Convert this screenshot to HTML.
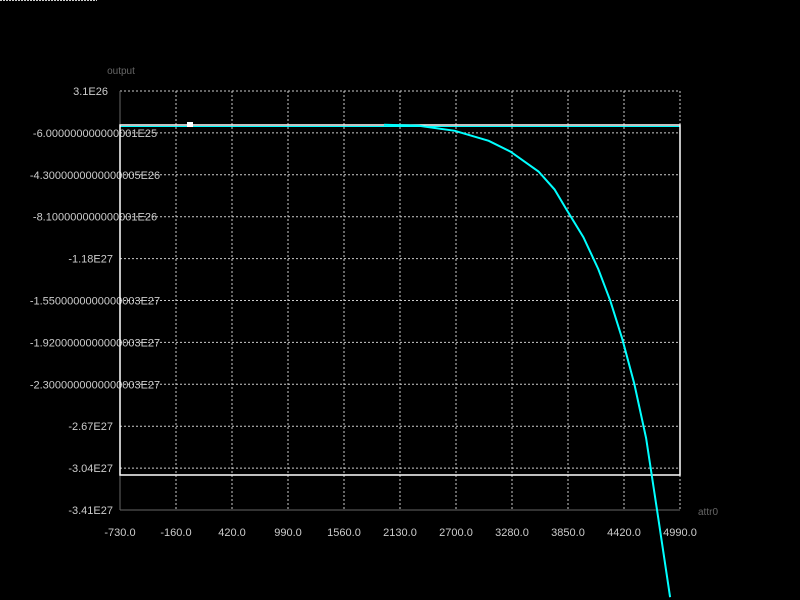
<!DOCTYPE html>
<html><head><meta charset="utf-8"><style>
body{margin:0;background:#000;width:800px;height:600px;overflow:hidden}
svg{display:block;font-family:"Liberation Sans",sans-serif}
</style></head><body>
<svg id="chart" width="800" height="600">
<line x1="0" y1="0.5" x2="97" y2="0.5" stroke="#ccc" stroke-dasharray="2,1"/>
<text x="121" y="74" fill="#666" font-size="10" text-anchor="middle">output</text>
<text x="698" y="515" fill="#666" font-size="10">attr0</text>
<g id="grid"></g><g id="ticks"></g>
<line x1="120" y1="91" x2="120" y2="510" stroke="#666"/>
<line x1="120" y1="510" x2="680" y2="510" stroke="#666"/>
<line x1="120" y1="126.5" x2="680" y2="126.5" stroke="#0ff" stroke-width="1"/>
<rect x="120" y="125" width="560" height="350" fill="none" stroke="#fff" stroke-width="1.5"/>
<path id="curve" fill="none" stroke="#0ff" stroke-width="2"/>
<rect x="187" y="122" width="6" height="5" fill="#fff"/>
</svg>
<script>
const xTicks=["-730.0","-160.0","420.0","990.0","1560.0","2130.0","2700.0","3280.0","3850.0","4420.0","4990.0"];
const yTicks=["3.1E26","-6.000000000000001E25","-4.3000000000000005E26","-8.100000000000001E26","-1.18E27","-1.5500000000000003E27","-1.9200000000000003E27","-2.3000000000000003E27","-2.67E27","-3.04E27","-3.41E27"];
const xs=[1967,2324,2690,3036,3260,3545,3708,3830,4003,4156,4278,4400,4522,4644,4767,4889];
const ys=[0.10,0.01,-0.43,-1.32,-2.29,-4.05,-5.64,-7.41,-9.88,-12.71,-15.53,-18.89,-22.86,-27.72,-34.78,-41.84];
const xMin=-730,xMax=4990,yMax=3.1,yMin=-34.1;
const sx=v=>120+(v-xMin)/(xMax-xMin)*560;
const sy=v=>91+(yMax-v)/(yMax-yMin)*419;
const NS="http://www.w3.org/2000/svg";
const grid=document.getElementById('grid'),ticks=document.getElementById('ticks');
xTicks.forEach((t,i)=>{
 const x=120+i*56;
 const l=document.createElementNS(NS,'line');
 l.setAttribute('x1',x);l.setAttribute('x2',x);l.setAttribute('y1',91);l.setAttribute('y2',510);
 l.setAttribute('stroke','#ccc');l.setAttribute('stroke-dasharray','2,2');
 
 
 grid.appendChild(l);
 const tx=document.createElementNS(NS,'text');
 tx.setAttribute('x',x);tx.setAttribute('y',536);tx.setAttribute('fill','#ccc');tx.setAttribute('font-size','11');tx.setAttribute('text-anchor','middle');
 tx.textContent=t;
 
 
 ticks.appendChild(tx);
});
yTicks.forEach((t,i)=>{
 const y=91+i*41.9;
 const l=document.createElementNS(NS,'line');
 l.setAttribute('x1',120);l.setAttribute('x2',680);l.setAttribute('y1',y);l.setAttribute('y2',y);
 l.setAttribute('stroke','#ccc');l.setAttribute('stroke-dasharray','2,2');
 
 
 grid.appendChild(l);
 const tx=document.createElementNS(NS,'text');
 tx.setAttribute('x',i==0?108:(t.length>10?95:113));tx.setAttribute('y',y+4);tx.setAttribute('fill','#ccc');tx.setAttribute('font-size','11');tx.setAttribute('text-anchor',i==0?'end':(t.length>10?'middle':'end'));
 tx.textContent=t;
 
 
 ticks.appendChild(tx);
});
document.getElementById('curve').setAttribute('d',xs.map((v,i)=>(i?'L':'M')+sx(v).toFixed(1)+','+sy(ys[i]).toFixed(1)).join(' '));
</script>
</body></html>
